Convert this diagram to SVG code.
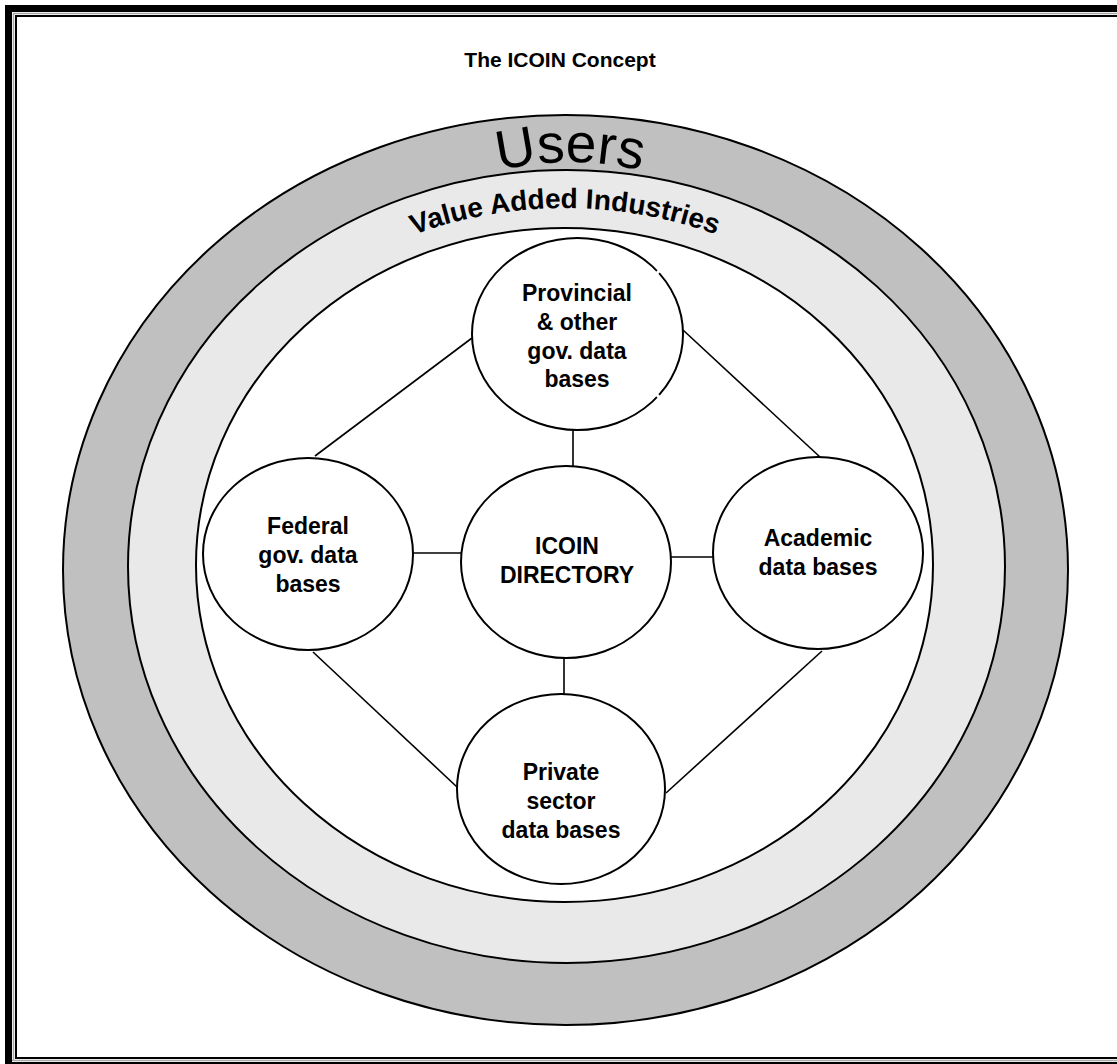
<svg xmlns="http://www.w3.org/2000/svg" width="1117" height="1064" viewBox="0 0 1117 1064">
<style>
.node ellipse{fill:#fff;stroke:#000;stroke-width:2}
.node text, .title{font-family:"Liberation Sans",Arial,sans-serif;font-weight:bold;font-size:23px;text-anchor:middle;fill:#000}
.title{font-size:21px}
.band{stroke:#000;stroke-width:2}
.conn line{stroke:#000;stroke-width:1.6}
.arc{font-family:"Liberation Sans",Arial,sans-serif;fill:#000}
.gap{stroke:#fff;stroke-width:4}
</style>
<defs>
<path id="usersArc" d="M 270 462 A 300 300 0 0 1 870 462"/>
<path id="vaiArc" d="M 165 566 A 400 358 0 0 1 965 566"/>
</defs>
<rect width="1117" height="1064" fill="#fff"/>
<g id="frame">
<rect x="5" y="5" width="1112" height="7" fill="#000"/>
<rect x="5" y="5" width="7" height="1059" fill="#000"/>
<path d="M13.5 1061 V13.5 H1117" fill="none" stroke="#a8a8a8" stroke-width="1.5"/>
<path d="M16 1058 V16 H1117" fill="none" stroke="#000" stroke-width="2"/>
<line x1="15" y1="1058" x2="1117" y2="1058" stroke="#000" stroke-width="2"/>
<line x1="12" y1="1060.5" x2="1117" y2="1060.5" stroke="#a8a8a8" stroke-width="1.5"/>
<line x1="5" y1="1063" x2="1117" y2="1063" stroke="#000" stroke-width="2"/>
</g>
<text class="title" x="560" y="67">The ICOIN Concept</text>
<g id="users">
<ellipse class="band" cx="565.5" cy="570" rx="502.5" ry="455" fill="#c0c0c0"/>
<text class="arc" font-size="55"><textPath href="#usersArc" startOffset="50%" text-anchor="middle">Users</textPath></text>
</g>
<g id="value-added">
<ellipse class="band" cx="566.5" cy="566.5" rx="438.5" ry="396.5" fill="#e9e9e9"/>
<text class="arc" font-size="28" font-weight="bold"><textPath href="#vaiArc" startOffset="50%" text-anchor="middle">Value Added Industries</textPath></text>
</g>
<g id="inner">
<ellipse class="band" cx="564.5" cy="565" rx="368.5" ry="337" fill="#fff"/>
</g>
<g id="connectors" class="conn">
<line x1="573" y1="430" x2="573" y2="466"/>
<line x1="461" y1="553" x2="413" y2="553"/>
<line x1="671" y1="557" x2="713" y2="557"/>
<line x1="564" y1="658" x2="564" y2="694"/>
<line x1="472" y1="338" x2="315" y2="456"/>
<line x1="683" y1="330" x2="820" y2="457"/>
<line x1="313" y1="652" x2="457" y2="787"/>
<line x1="822" y1="651" x2="666" y2="793"/>
</g>
<g id="provincial" class="node">
<ellipse cx="577.5" cy="334" rx="105.5" ry="96"/>
<line class="gap" x1="656.9" y1="271" x2="659.1" y2="273.2"/>
<line class="gap" x1="659.1" y1="394.8" x2="656.9" y2="397"/>
<text x="577" y="301">Provincial</text>
<text x="577" y="330">&amp; other</text>
<text x="577" y="359">gov. data</text>
<text x="577" y="387">bases</text>
</g>
<g id="federal" class="node">
<ellipse cx="308" cy="554" rx="105" ry="96"/>
<text x="308" y="534">Federal</text>
<text x="308" y="563">gov. data</text>
<text x="308" y="592">bases</text>
</g>
<g id="icoin" class="node">
<ellipse cx="566" cy="562" rx="105" ry="96"/>
<text x="567" y="554">ICOIN</text>
<text x="567" y="583">DIRECTORY</text>
</g>
<g id="academic" class="node">
<ellipse cx="818" cy="553" rx="105" ry="96"/>
<text x="818" y="546">Academic</text>
<text x="818" y="575">data bases</text>
</g>
<g id="private" class="node">
<ellipse cx="561" cy="789" rx="104" ry="95"/>
<text x="561" y="780">Private</text>
<text x="561" y="809">sector</text>
<text x="561" y="838">data bases</text>
</g>
</svg>
